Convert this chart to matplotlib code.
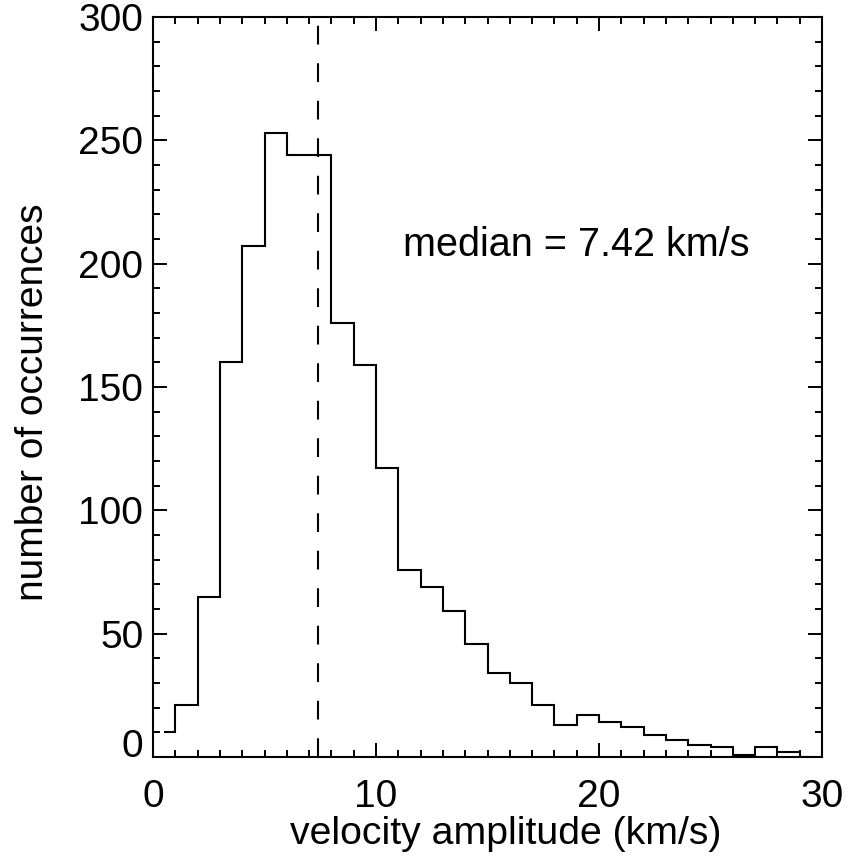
import numpy as np
import matplotlib
matplotlib.use("Agg")
import matplotlib.pyplot as plt
from matplotlib.ticker import MultipleLocator

# histogram of velocity amplitudes (bin centres in km/s, counts)
bin_centers = np.arange(0.5, 30.0, 1.0)
counts = [10, 21, 65, 160, 207, 253, 244, 244, 176, 159,
          117, 76, 69, 59, 46, 34, 30, 21, 13, 17,
          14, 12, 9, 7, 5, 4, 1, 4, 2, 0]
median_value = 7.42

x_ticks = [0, 10, 20, 30]
y_ticks = [0, 50, 100, 150, 200, 250, 300]

plt.rcParams['font.family'] = ['Liberation Sans', 'DejaVu Sans']
plt.rcParams['font.size'] = 28

fig = plt.figure(figsize=(8.48, 8.56), dpi=100)
ax = fig.add_axes([153 / 848, 99 / 856, 669 / 848, 740 / 856])

# IDL psym=10 style: steps centred on the points, half bins at both ends
edges = np.concatenate([[bin_centers[0]],
                        (bin_centers[:-1] + bin_centers[1:]) / 2,
                        [bin_centers[-1]]])
ax.stairs(counts, edges, baseline=None, color='black', linewidth=1.5)

ax.axvline(median_value, color='black', linewidth=1.5, dashes=(9, 9))
ax.text(11.2, 203, f"median = {median_value:.2f} km/s", ha='left', va='baseline',
        fontsize=28.5)

ax.set_xlim(0, 30)
ax.set_ylim(0, 300)
ax.set_xticks(x_ticks)
ax.set_yticks(y_ticks)
ax.xaxis.set_minor_locator(MultipleLocator(1))
ax.yaxis.set_minor_locator(MultipleLocator(10))
ax.tick_params(which='both', direction='in', top=True, right=True, width=1.4)
ax.tick_params(which='major', length=10)
ax.tick_params(which='minor', length=5)
ax.tick_params(axis='x', pad=16)
ax.tick_params(axis='y', pad=7)
for spine in ax.spines.values():
    spine.set_linewidth(1.5)

# bottom y label sits above the axis corner, like IDL does it
ax.yaxis.get_major_ticks()[0].label1.set_verticalalignment('baseline')

ax.set_xlabel("velocity amplitude (km/s)", fontsize=28.3)
ax.set_ylabel("number of occurrences")
ax.xaxis.set_label_coords(0.527, -0.08)
ax.yaxis.set_label_coords(-0.18, 0.48)
ax.xaxis.label.set_verticalalignment('top')
ax.yaxis.label.set_verticalalignment('center')

fig.savefig("out.png", dpi=100)
